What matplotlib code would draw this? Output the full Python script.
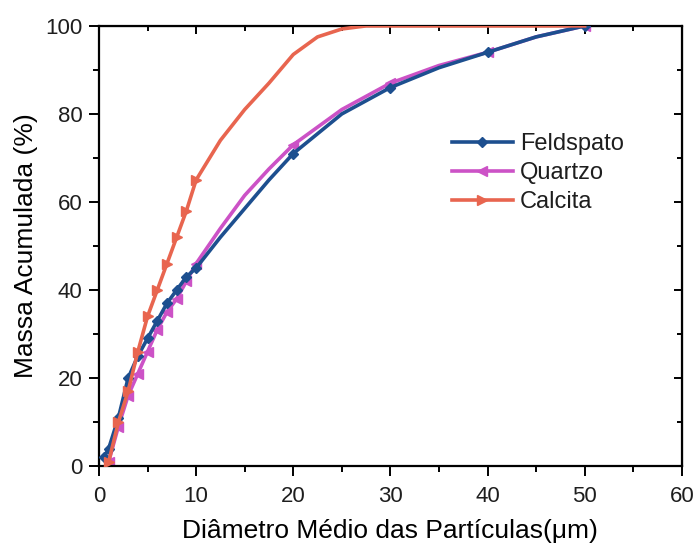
import matplotlib
matplotlib.use('Agg')
import matplotlib.pyplot as plt
from matplotlib.ticker import MultipleLocator

plt.rcParams['font.family'] = ['Liberation Sans', 'DejaVu Sans']
plt.rcParams['text.color'] = '#1e1e1e'
plt.rcParams['xtick.labelcolor'] = '#1e1e1e'
plt.rcParams['ytick.labelcolor'] = '#1e1e1e'

# diametro medio (um) e massa acumulada (%)
x_feld = [0.5, 1, 2, 3, 4, 5, 6, 7, 8, 9, 10, 12.5, 15, 17.5, 20, 25, 30, 35, 40, 45, 50]
y_feld = [2, 4, 11, 20, 25, 29, 33, 37, 40, 43, 45, 52, 58.5, 65, 71, 80, 86, 90.5, 94, 97.5, 100]
mk_feld = [0, 1, 2, 3, 4, 5, 6, 7, 8, 9, 10, 14, 16, 18, 20]

x_quar = [1, 2, 3, 4, 5, 6, 7, 8, 9, 10, 12.5, 15, 17.5, 20, 25, 30, 35, 40, 45, 50]
y_quar = [1, 9, 16, 21, 26, 31, 35, 38, 42, 46, 54, 61.5, 67.5, 73, 81, 87, 91, 94, 97.5, 100]
mk_quar = [0, 1, 2, 3, 4, 5, 6, 7, 8, 9, 13, 15, 17, 19]

x_calc = [1, 2, 3, 4, 5, 6, 7, 8, 9, 10, 12.5, 15, 17.5, 20, 22.5, 25, 27.5, 30, 40, 50]
y_calc = [1, 10, 17, 26, 34, 40, 46, 52, 58, 65, 74, 81, 87, 93.5, 97.5, 99.3, 100, 100, 100, 100]
mk_calc = list(range(10))

fig = plt.figure(figsize=(6.95, 5.51), dpi=100)
ax = fig.add_axes([0.1424, 0.154, 0.8386, 0.799])

ax.plot(x_feld, y_feld, color='#1d4f8f', lw=2.6, marker='D', ms=5,
        markevery=mk_feld, label='Feldspato', zorder=3)
ax.plot(x_quar, y_quar, color='#cc52c6', lw=2.6, marker='<', ms=6.5,
        markevery=mk_quar, label='Quartzo', zorder=2)
ax.plot(x_calc, y_calc, color='#e8654f', lw=2.6, marker='>', ms=6.5,
        markevery=mk_calc, label='Calcita', zorder=4)

ax.set_xlim(0, 60)
ax.set_ylim(0, 100)
ax.xaxis.set_major_locator(MultipleLocator(10))
ax.xaxis.set_minor_locator(MultipleLocator(5))
ax.yaxis.set_major_locator(MultipleLocator(20))
ax.yaxis.set_minor_locator(MultipleLocator(10))

for s in ax.spines.values():
    s.set_linewidth(1.6)

ax.tick_params(which='both', direction='out', width=1.4, labelsize=16,
               top=False, right=False)
ax.tick_params(axis='x', pad=7)
ax.tick_params(axis='y', pad=5)
ax.tick_params(which='major', length=7)
ax.tick_params(which='minor', length=4)

# ticks internos nos eixos superior e direito
axt = ax.secondary_xaxis('top')
axt.xaxis.set_major_locator(MultipleLocator(10))
axt.xaxis.set_minor_locator(MultipleLocator(5))
axt.tick_params(which='both', direction='in', width=1.4, labeltop=False)
axt.tick_params(which='major', length=6)
axt.tick_params(which='minor', length=3.5)
axr = ax.secondary_yaxis('right')
axr.yaxis.set_major_locator(MultipleLocator(20))
axr.yaxis.set_minor_locator(MultipleLocator(10))
axr.tick_params(which='both', direction='in', width=1.4, labelright=False)
axr.tick_params(which='major', length=6)
axr.tick_params(which='minor', length=3.5)

ax.set_xlabel('Diâmetro Médio das Partículas(μm)', fontsize=19, labelpad=9)
ax.set_ylabel('Massa Acumulada (%)', fontsize=19, labelpad=5)

ax.legend(loc='upper left', bbox_to_anchor=(0.605, 0.757), frameon=False,
          fontsize=17, handlelength=2.6, handletextpad=0.3, labelspacing=0.3,
          borderpad=0, borderaxespad=0)

fig.savefig('out.png', dpi=100)
